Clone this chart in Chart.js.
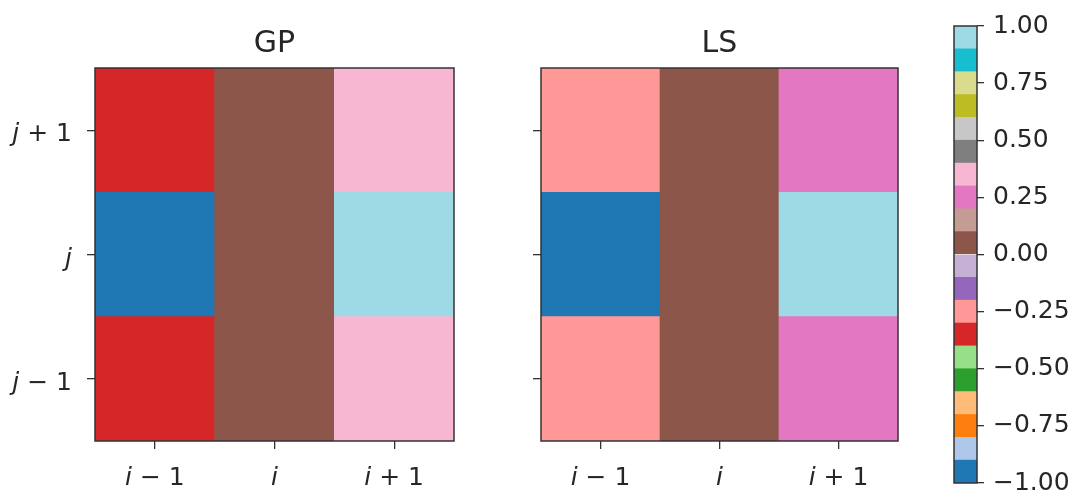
<!DOCTYPE html>
<html><head><meta charset="utf-8">
<script src="https://cdn.jsdelivr.net/npm/chart.js@4"></script>
<style>
html,body{margin:0;padding:0;background:#fff;width:1074px;height:492px;overflow:hidden}
canvas{position:absolute;top:0}
</style></head><body>
<canvas id="gp" width="480" height="492" style="left:0"></canvas>
<canvas id="ls" width="450" height="492" style="left:480px"></canvas>
<canvas id="cb" width="144" height="492" style="left:930px"></canvas>
<script>
// ---- data ----
const colLabels = ['i − 1', 'i', 'i + 1'];
const rowLabels = ['j − 1', 'j', 'j + 1'];           // bottom to top
const gpValues = [[-0.35, 0, 0.35], [-1, 0, 1], [-0.35, 0, 0.35]]; // rows j-1, j, j+1
const lsValues = [[-0.25, 0, 0.25], [-1, 0, 1], [-0.25, 0, 0.25]];
const cbMin = -1, cbMax = 1, cbStep = 0.25;
const tab20 = ['#1f77b4','#aec7e8','#ff7f0e','#ffbb78','#2ca02c','#98df8a','#d62728','#ff9896',
  '#9467bd','#c5b0d5','#8c564b','#c49c94','#e377c2','#f7b6d2','#7f7f7f','#c7c7c7',
  '#bcbd22','#dbdb8d','#17becf','#9edae5'];

const FONT = '"DejaVu Sans", sans-serif';
const INK = '#262626';
function cmap(v){
  let k = Math.floor((v - cbMin) / (cbMax - cbMin) * tab20.length + 1e-9);
  k = Math.max(0, Math.min(tab20.length - 1, k));
  return tab20[k];
}
function drawMath(ctx, text, x, y, align){
  const a = text.charAt(0), b = text.slice(1);
  ctx.font = 'italic 25px ' + FONT;
  const wa = ctx.measureText(a).width;
  ctx.font = '25px ' + FONT;
  const wb = ctx.measureText(b).width;
  const w = wa + wb;
  let x0 = align === 'right' ? x - w : (align === 'center' ? x - w / 2 : x);
  ctx.fillStyle = INK; ctx.textBaseline = 'alphabetic'; ctx.textAlign = 'left';
  ctx.font = 'italic 25px ' + FONT; ctx.fillText(a, x0, y);
  ctx.font = '25px ' + FONT; ctx.fillText(b, x0 + wa, y);
}
const mplPlugin = {
  id: 'mpl',
  afterDraw(chart){
    const o = chart.options.plugins.mpl || {};
    const ctx = chart.ctx, ca = chart.chartArea;
    ctx.save();
    ctx.strokeStyle = '#333'; ctx.lineWidth = 1.5;
    ctx.strokeRect(ca.left, ca.top, ca.right - ca.left, ca.bottom - ca.top);
    if (o.title){
      ctx.fillStyle = INK; ctx.font = '30px ' + FONT; ctx.textAlign = 'center'; ctx.textBaseline = 'alphabetic';
      ctx.fillText(o.title, (ca.left + ca.right) / 2, 52);
    }
    if (o.xLabels){
      const xs = chart.scales.x;
      o.xLabels.forEach((t, i) => drawMath(ctx, t, xs.getPixelForTick(i), 485, 'center'));
    }
    if (o.yLabels){
      const ys = chart.scales.y;
      o.yLabels.forEach((t, i) => drawMath(ctx, t, ca.left - 23, ys.getPixelForValue(i) + 11, 'right'));
    }
    ctx.restore();
  }
};

function heatmap(id, title, values, yLeftWidth, padRight, showYLabels){
  const datasets = values.map((row, r) => ({
    data: row.map((v, c) => ({x: colLabels[c], y: [r - 0.5, r + 0.5]})),
    backgroundColor: row.map(cmap),
    borderWidth: 0, grouped: false, barPercentage: 1, categoryPercentage: 1
  }));
  return new Chart(document.getElementById(id), {
    type: 'bar',
    data: {labels: colLabels, datasets},
    plugins: [mplPlugin],
    options: {
      responsive: false, animation: false, devicePixelRatio: 1,
      layout: {padding: {left: 0, right: padRight, top: 68, bottom: 0}},
      plugins: {legend: {display: false}, tooltip: {enabled: false},
        mpl: {title, xLabels: colLabels, yLabels: showYLabels ? rowLabels : null}},
      scales: {
        x: {type: 'category', offset: true,
          grid: {offset: false, drawOnChartArea: false, drawTicks: true, tickLength: 8, color: '#333', lineWidth: 1.3},
          border: {display: false}, ticks: {display: false},
          afterFit: s => { s.height = 51; }},
        y: {type: 'linear', min: -0.5, max: 2.5,
          afterBuildTicks: s => { s.ticks = rowLabels.map((_, i) => ({value: i})); },
          grid: {drawOnChartArea: false, drawTicks: true, tickLength: 8, color: '#333', lineWidth: 1.3},
          border: {display: false}, ticks: {display: false},
          afterFit: s => { s.width = yLeftWidth; }}
      }
    }
  });
}
heatmap('gp', 'GP', gpValues, 95, 26, true);
heatmap('ls', 'LS', lsValues, 61, 32, false);

// colorbar
const nBins = tab20.length, binW = (cbMax - cbMin) / nBins;
const cbSets = tab20.map((col, k) => ({
  data: [[cbMin + k * binW, cbMin + (k + 1) * binW]],
  backgroundColor: col, borderWidth: 0, grouped: false, barPercentage: 1, categoryPercentage: 1
}));
new Chart(document.getElementById('cb'), {
  type: 'bar',
  data: {labels: ['cb'], datasets: cbSets},
  plugins: [mplPlugin],
  options: {
    responsive: false, animation: false, devicePixelRatio: 1,
    layout: {padding: {left: 24, right: 0, top: 26, bottom: 9}},
    plugins: {legend: {display: false}, tooltip: {enabled: false}, mpl: {}},
    scales: {
      x: {display: false, offset: true},
      y: {type: 'linear', position: 'right', min: cbMin, max: cbMax,
        ticks: {stepSize: cbStep, autoSkip: false, padding: 9, color: INK,
          font: {family: FONT, size: 25},
          callback: v => (v < 0 ? '−' : '') + Math.abs(v).toFixed(2)},
        grid: {drawOnChartArea: false, drawTicks: true, tickLength: 7, color: '#333', lineWidth: 1.3},
        border: {display: false},
        afterFit: s => { s.width = 97; s.paddingTop = 0; s.paddingBottom = 0; }}
    }
  }
});
</script>
</body></html>
